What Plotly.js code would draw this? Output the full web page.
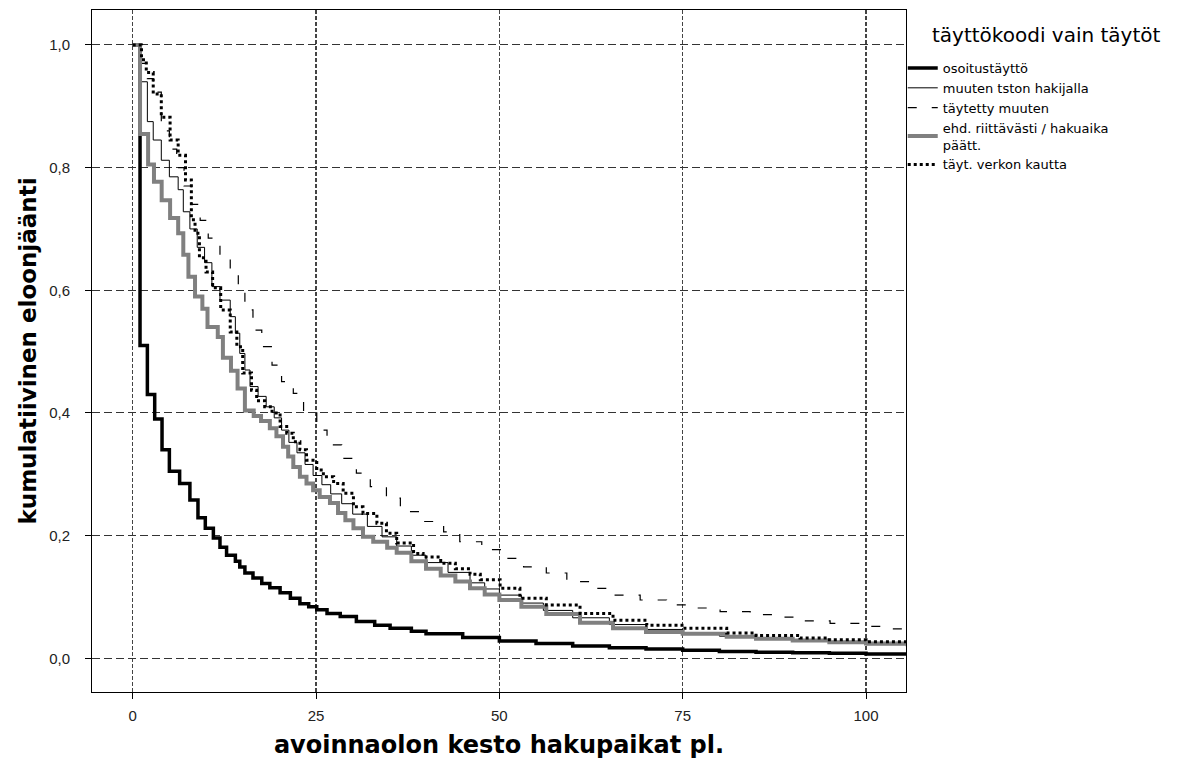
<!DOCTYPE html>
<html>
<head>
<meta charset="utf-8">
<script src="https://cdn.plot.ly/plotly-3.0.1.min.js"></script>
<style>html,body{margin:0;padding:0;background:#fff;}#chart{width:1192px;height:765px;}</style>
</head>
<body>
<div id="chart"></div>
<script>
// Series names (legend)
const seriesNames = ["osoitustäyttö", "muuten tston hakijalla", "täytetty muuten", "ehd. riittävästi / hakuaika<br>päätt.", "täyt. verkon kautta"];

// osoitustäyttö
const tA = [0,1,2,3,4,5,6.4,7.8,8.9,9.9,11,11.9,12.8,14,14.6,15.3,16.4,17.6,18.7,20.1,21.5,22.8,24,25.1,26.5,28.3,30.5,33,35.1,38,40,45,50,55,60,65,70,75,80,85,90,95,100,105.5];
const sA = [1.0,0.51,0.43,0.39,0.34,0.305,0.285,0.258,0.229,0.212,0.196,0.181,0.168,0.158,0.149,0.139,0.131,0.122,0.115,0.107,0.098,0.089,0.084,0.079,0.073,0.068,0.060,0.054,0.049,0.044,0.040,0.034,0.028,0.024,0.020,0.017,0.015,0.013,0.011,0.010,0.009,0.008,0.007,0.006];

// muuten tston hakijalla
const tB = [0,1,2,2.8,3.9,5,6.2,6.9,7.8,8.8,9.8,10.8,11.9,13.3,14,14.6,15.3,16,17.1,18.2,19.3,20.3,21.3,22.4,23.5,24.6,25.8,27,28.5,30,32,34,36,38,40,43,46,48,50,53,56,60,65,70,75,80,85,90,95,100,105.5];
const sB = [1.0,0.94,0.875,0.845,0.812,0.785,0.764,0.728,0.70,0.67,0.645,0.606,0.584,0.557,0.53,0.497,0.47,0.443,0.427,0.41,0.392,0.372,0.352,0.335,0.316,0.298,0.283,0.268,0.252,0.235,0.215,0.198,0.183,0.168,0.156,0.14,0.123,0.113,0.103,0.09,0.078,0.066,0.055,0.047,0.041,0.036,0.032,0.028,0.025,0.022,0.019];

// täytetty muuten
const tC = [0,1,2,2.8,3.9,5,6,7,8,9.2,10.3,11.9,13.3,14.4,15.3,16.4,17.6,19,20.3,21.9,23.3,25.1,26.5,28.5,30.5,32.4,34.6,36.5,39.2,42.4,44.6,47.6,50.5,53.3,56.4,59.2,62.4,65.5,69.2,72.8,76.4,80.1,84.2,87.3,91.4,95.1,99.2,103.3,105.5];
const sC = [1.0,0.97,0.945,0.923,0.86,0.83,0.80,0.77,0.74,0.714,0.685,0.655,0.628,0.598,0.568,0.535,0.508,0.478,0.451,0.432,0.40,0.372,0.348,0.326,0.302,0.28,0.261,0.239,0.223,0.206,0.19,0.177,0.163,0.149,0.139,0.125,0.114,0.103,0.095,0.087,0.082,0.076,0.071,0.067,0.061,0.057,0.052,0.048,0.046];

// ehd. riittävästi / hakuaika päätt.
const tD = [0,1,2.1,2.9,3.95,5.1,6.2,6.9,7.6,8.5,9.5,10.2,11.6,12.3,13.4,14.3,15.3,16.5,17.5,18.7,19.6,20.5,21.2,21.9,22.8,23.7,24.6,25.5,26.9,28,29,30.1,31.4,32.8,34.7,36,38,40,42,44,46,48,50,53,56.4,61,65.5,70,75,81,85,90,95,100,105.5];
const sD = [1.0,0.855,0.805,0.777,0.747,0.718,0.693,0.658,0.622,0.59,0.57,0.54,0.524,0.49,0.469,0.44,0.404,0.395,0.387,0.375,0.362,0.345,0.329,0.312,0.296,0.285,0.274,0.263,0.253,0.237,0.225,0.212,0.198,0.19,0.18,0.172,0.158,0.146,0.135,0.125,0.114,0.104,0.095,0.084,0.072,0.058,0.049,0.043,0.040,0.035,0.032,0.029,0.026,0.024,0.021];

// täyt. verkon kautta
const tE = [0,1.2,1.85,2.8,3.9,5.1,6.2,7.2,8,8.5,9.1,10,10.9,12,13.3,14.2,15,16.2,16.9,18,19,20.1,21,21.9,22.8,23.7,25.1,26,27.4,28.7,30.1,31.4,33.3,34.6,36,38.3,39.6,42,44,46,47.4,50.1,52.8,56.4,61,65.5,70.1,74.9,81,85,91,95,100,105.5];
const sE = [1.0,0.976,0.955,0.92,0.882,0.845,0.82,0.78,0.715,0.693,0.653,0.63,0.604,0.568,0.532,0.508,0.465,0.437,0.42,0.41,0.40,0.378,0.367,0.353,0.34,0.323,0.307,0.296,0.285,0.269,0.247,0.236,0.22,0.204,0.188,0.171,0.165,0.155,0.146,0.137,0.128,0.114,0.098,0.087,0.073,0.062,0.054,0.049,0.041,0.037,0.033,0.030,0.027,0.0245];

const xTicks = [0,25,50,75,100];
const yTicks = [0,0.2,0.4,0.6,0.8,1.0];

const traces = [
  {x:tA, y:sA, name:seriesNames[0], mode:'lines', line:{shape:'hv', color:'#000000', width:3.5}},
  {x:tB, y:sB, name:seriesNames[1], mode:'lines', line:{shape:'hv', color:'#000000', width:1}},
  {x:tC, y:sC, name:seriesNames[2], mode:'lines', line:{shape:'hv', color:'#000000', width:1.2, dash:'9px,15px'}},
  {x:tD, y:sD, name:seriesNames[3], mode:'lines', line:{shape:'hv', color:'#808080', width:4}},
  {x:tE, y:sE, name:seriesNames[4], mode:'lines', line:{shape:'hv', color:'#000000', width:3, dash:'3px,3px'}}
];

const layout = {
  width:1192, height:765,
  paper_bgcolor:'#ffffff', plot_bgcolor:'#ffffff',
  margin:{l:92, r:286, t:10, b:73},
  separators:', ',
  showlegend:true,
  font:{family:'"Liberation Sans", Arial, sans-serif', color:'#000'},
  xaxis:{
    range:[-5.55,105.45], tickvals:xTicks, ticktext:xTicks.map(String),
    showline:true, mirror:true, linecolor:'#000', linewidth:1,
    ticks:'outside', ticklen:6, tickcolor:'#000', ticklabelstandoff:4,
    showgrid:true, gridcolor:'#444', gridwidth:1.2, griddash:'4px,2px',
    zeroline:false,
    tickfont:{size:15, color:'#222'},
    title:{text:'avoinnaolon kesto hakupaikat pl.', font:{family:'"DejaVu Sans", sans-serif', size:24, weight:'bold', color:'#000'}, standoff:13}
  },
  yaxis:{
    range:[-0.055,1.057], tickvals:yTicks, tickformat:'.1f',
    showline:true, mirror:true, linecolor:'#000', linewidth:1,
    ticks:'outside', ticklen:6, tickcolor:'#000', ticklabelstandoff:12,
    showgrid:true, gridcolor:'#333', gridwidth:1, griddash:'8px,4px',
    zeroline:false,
    tickfont:{size:15, color:'#222'},
    title:{text:'kumulatiivinen eloonjäänti', font:{family:'"DejaVu Sans", sans-serif', size:23, weight:'bold', color:'#000'}, standoff:6}
  },
  legend:{
    x:0.996, xanchor:'left', y:0.937, yanchor:'top',
    bgcolor:'rgba(255,255,255,0)', borderwidth:0,
    font:{family:'"DejaVu Sans", sans-serif', size:13, color:'#000'},
    itemwidth:30, tracegroupgap:0
  },
  annotations:[
    {xref:'paper', yref:'paper', x:1.03, y:0.963, xanchor:'left', yanchor:'middle', showarrow:false,
     text:'täyttökoodi vain täytöt', font:{family:'"DejaVu Sans", sans-serif', size:20, color:'#000'}}
  ]
};

Plotly.newPlot('chart', traces, layout, {displayModeBar:false, staticPlot:true});
</script>
</body>
</html>
